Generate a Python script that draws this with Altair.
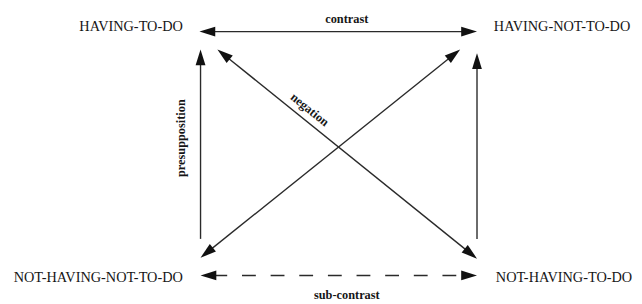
import math
import altair as alt
import pandas as pd

# ---- data (logical diagram coordinates: left column u=0, right u=1, bottom row v=0, top v=1)
corner_text = ["HAVING-TO-DO", "HAVING-NOT-TO-DO", "NOT-HAVING-NOT-TO-DO", "NOT-HAVING-TO-DO"]
corner_u = [-0.064, 1.061, -0.064, 1.068]
corner_v = [1.020, 1.020, -0.012, -0.012]
corner_side = ["right", "left", "right", "left"]

rel_name = ["contrast", "sub-contrast", "presupposition", "implication", "negation", "negation-2"]
rel_u1 = [-0.004, 0.0, 0.0, 1.0, 0.061, 0.939]
rel_v1 = [1.0, 0.0, 0.150, 0.150, 0.927, 0.927]
rel_u2 = [1.0, 1.0, 0.0, 1.0, 1.0, 0.0]
rel_v2 = [1.0, 0.0, 0.927, 0.911, 0.069, 0.073]
rel_head1 = [True, True, False, False, True, True]
rel_head2 = [True, True, True, True, True, True]
rel_dashed = [False, True, False, False, False, False]

lab_text = ["contrast", "sub-contrast", "presupposition", "negation"]
lab_u = [0.529, 0.529, -0.071, 0.395]
lab_v = [1.053, -0.081, 0.563, 0.680]
lab_angle = [0, 0, 270, 39]

# ---- layout
W, H = 634, 296
XDOM = [-0.69643, 1.56786]
YDOM = [-0.10931, 1.08907]
sx = W / (XDOM[1] - XDOM[0])
sy = H / (YDOM[1] - YDOM[0])
HEAD_LEN = 16
ARROW = "M0,0 L-1,-0.31 L-1,0.31 Z"
INK = "#161616"

segs, heads = [], []
for i in range(len(rel_name)):
    u1, v1, u2, v2 = rel_u1[i], rel_v1[i], rel_u2[i], rel_v2[i]
    dx = (u2 - u1) * sx
    dy = -(v2 - v1) * sy
    L = math.hypot(dx, dy)
    ex, ey = dx / L, dy / L
    a = u1, v1
    b = u2, v2
    cut = HEAD_LEN - 3
    if rel_head1[i]:
        heads.append({"u": u1, "v": v1, "angle": math.degrees(math.atan2(-ey, -ex)) % 360})
        a = (u1 + ex * cut / sx, v1 - ey * cut / sy)
    if rel_head2[i]:
        heads.append({"u": u2, "v": v2, "angle": math.degrees(math.atan2(ey, ex)) % 360})
        b = (u2 - ex * cut / sx, v2 + ey * cut / sy)
    segs.append({"name": rel_name[i], "u": a[0], "v": a[1], "u2": b[0], "v2": b[1],
                 "dashed": rel_dashed[i]})

seg_df = pd.DataFrame(segs)
head_df = pd.DataFrame(heads)
corner_df = pd.DataFrame({"text": corner_text, "u": corner_u, "v": corner_v, "side": corner_side})
lab_df = pd.DataFrame({"text": lab_text, "u": lab_u, "v": lab_v, "angle": lab_angle})

xs = alt.Scale(domain=XDOM, nice=False, zero=False)
ys = alt.Scale(domain=YDOM, nice=False, zero=False)
X = lambda f="u": alt.X(f"{f}:Q", scale=xs, axis=None)
Y = lambda f="v": alt.Y(f"{f}:Q", scale=ys, axis=None)

solid = alt.Chart(seg_df).transform_filter("!datum.dashed").mark_rule(
    color="#2a2a2a", strokeWidth=1.4
).encode(x=X(), y=Y(), x2="u2:Q", y2="v2:Q")

dashed = alt.Chart(seg_df).transform_filter("datum.dashed").mark_rule(
    color="#2a2a2a", strokeWidth=1.4, strokeDash=[14, 15]
).encode(x=X(), y=Y(), x2="u2:Q", y2="v2:Q")

arrowheads = alt.Chart(head_df).mark_point(
    shape=ARROW, filled=True, size=(2 * HEAD_LEN) ** 2, color="#111111", opacity=1, strokeWidth=0
).encode(x=X(), y=Y(), angle=alt.Angle("angle:Q", scale=None))

corner_r = alt.Chart(corner_df).transform_filter("datum.side == 'right'").mark_text(
    font="Liberation Serif", fontSize=14.5, align="right", baseline="middle", color=INK
).encode(x=X(), y=Y(), text="text:N")

corner_l = alt.Chart(corner_df).transform_filter("datum.side == 'left'").mark_text(
    font="Liberation Serif", fontSize=14.5, align="left", baseline="middle", color=INK
).encode(x=X(), y=Y(), text="text:N")

labels = alt.Chart(lab_df).mark_text(
    font="Liberation Serif", fontSize=12.5, fontWeight="bold", align="center",
    baseline="middle", color=INK
).encode(x=X(), y=Y(), text="text:N", angle=alt.Angle("angle:Q", scale=None))

chart = alt.layer(solid, dashed, arrowheads, corner_r, corner_l, labels).properties(
    width=W, height=H, padding=0, autosize=alt.AutoSizeParams(type="none"), background="white"
).configure_view(stroke=None)

chart.save("out.html", embed_options={"renderer": "svg", "actions": False})
